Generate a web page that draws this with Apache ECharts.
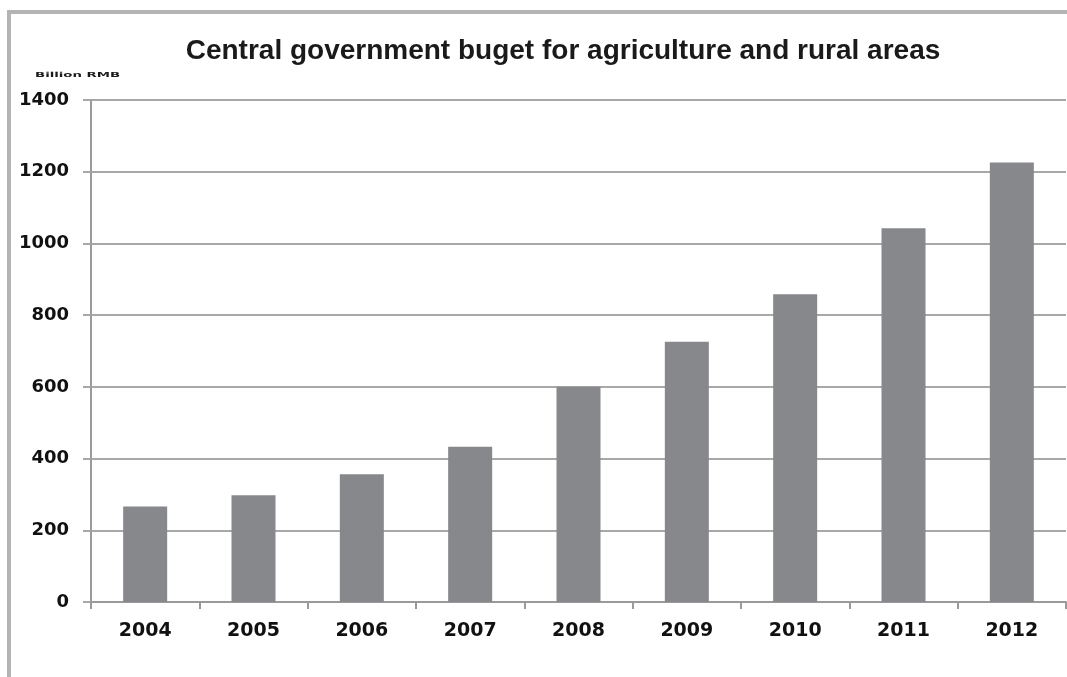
<!DOCTYPE html>
<html>
<head>
<meta charset="utf-8">
<script src="https://cdn.jsdelivr.net/npm/echarts@6/dist/echarts.min.js"></script>
<style>
  html, body { margin: 0; padding: 0; background: #ffffff; }
  #chart { width: 1067px; height: 677px; }
</style>
</head>
<body>
<div id="chart"></div>
<script>
// Budget by year, billion RMB
const years = ['2004', '2005', '2006', '2007', '2008', '2009', '2010', '2011', '2012'];
const budget = [266, 298, 356, 433, 600, 726, 858, 1042, 1226];
const yTicks = { min: 0, max: 1400, interval: 200 };

const chart = echarts.init(document.getElementById('chart'), null, { renderer: 'canvas' });

const labelFont = {
  color: '#111111',
  fontFamily: 'DejaVu Sans',
  fontWeight: 'bold'
};

chart.setOption({
  animation: false,
  backgroundColor: '#ffffff',
  title: {
    text: 'Central government buget for agriculture and rural areas',
    left: 558,
    textAlign: 'center',
    top: 32,
    textStyle: {
      fontFamily: 'Liberation Sans',
      fontWeight: 'bold',
      fontSize: 28,
      color: '#1a1a1a'
    }
  },
  graphic: [
    {
      type: 'rect',
      silent: true,
      shape: { x: 9, y: 12, width: 1100, height: 720 },
      style: { fill: 'none', stroke: '#b4b4b4', lineWidth: 4 }
    },
    {
      type: 'text',
      silent: true,
      left: 35,
      top: 72,
      scaleX: 1.9,
      style: {
        text: 'Billion RMB',
        fontFamily: 'DejaVu Sans',
        fontWeight: 'bold',
        fontSize: 7,
        fill: '#1a1a1a'
      }
    }
  ],
  grid: { left: 91, right: 1, top: 100, bottom: 75 },
  xAxis: {
    type: 'category',
    data: years,
    axisLine: { show: true, lineStyle: { color: '#9a9a9a', width: 2 } },
    axisTick: { show: true, length: 7, alignWithLabel: false, lineStyle: { color: '#9a9a9a', width: 2 } },
    axisLabel: Object.assign({ fontSize: 19, margin: 20 }, labelFont),
    splitLine: { show: false }
  },
  yAxis: {
    type: 'value',
    min: yTicks.min,
    max: yTicks.max,
    interval: yTicks.interval,
    axisLine: { show: true, lineStyle: { color: '#9a9a9a', width: 2 } },
    axisTick: { show: true, length: 8, lineStyle: { color: '#a8a8a8', width: 2 } },
    axisLabel: Object.assign({ fontSize: 18, margin: 22, formatter: (v) => String(v) }, labelFont),
    splitLine: { show: true, lineStyle: { color: '#a8a8a8', width: 2 } }
  },
  series: [
    {
      type: 'bar',
      data: budget,
      barWidth: 44,
      itemStyle: { color: '#87888c' }
    }
  ]
});
</script>
</body>
</html>
